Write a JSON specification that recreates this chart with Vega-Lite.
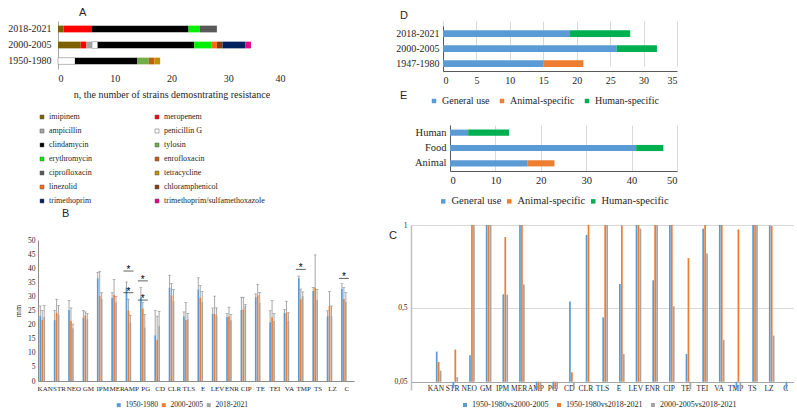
{
  "$schema": "https://vega.github.io/schema/vega-lite/v6.json",
  "background": "white",
  "padding": {"left": 7, "top": 7, "right": 0, "bottom": 0},
  "config": {
    "view": {"stroke": null},
    "axis": {"labelFont": "Liberation Serif", "titleFont": "Liberation Serif", "labelColor": "#262626", "titleColor": "#262626", "titleFontWeight": "normal", "ticks": false, "grid": false, "domainColor": "#a6a6a6", "labelAngle": 0, "labelOverlap": false},
    "legend": {"labelFont": "Liberation Serif", "labelColor": "#262626", "symbolType": "square", "padding": 0, "labelOffset": 3},
    "title": {"font": "Liberation Sans", "fontWeight": "normal", "fontSize": 11, "anchor": "start", "frame": "group", "color": "#262626"}
  },
  "datasets": {
    "a": [
      {"period": "2018-2021", "drug": "imipinem", "n": 1, "k": 1},
      {"period": "2018-2021", "drug": "meropenem", "n": 5, "k": 2},
      {"period": "2018-2021", "drug": "clindamycin", "n": 17, "k": 5},
      {"period": "2018-2021", "drug": "erythromycin", "n": 2, "k": 7},
      {"period": "2018-2021", "drug": "ciprofloxacin", "n": 3, "k": 9},
      {"period": "2000-2005", "drug": "imipinem", "n": 4, "k": 1},
      {"period": "2000-2005", "drug": "meropenem", "n": 1, "k": 2},
      {"period": "2000-2005", "drug": "ampicillin", "n": 1, "k": 3},
      {"period": "2000-2005", "drug": "penicillin G", "n": 1, "k": 4},
      {"period": "2000-2005", "drug": "clindamycin", "n": 17, "k": 5},
      {"period": "2000-2005", "drug": "erythromycin", "n": 3, "k": 7},
      {"period": "2000-2005", "drug": "linezolid", "n": 1, "k": 11},
      {"period": "2000-2005", "drug": "chloramphenicol", "n": 1, "k": 12},
      {"period": "2000-2005", "drug": "trimethoprim", "n": 4, "k": 13},
      {"period": "2000-2005", "drug": "trimethoprim/sulfamethoxazole", "n": 1, "k": 14},
      {"period": "1950-1980", "drug": "penicillin G", "n": 3, "k": 4},
      {"period": "1950-1980", "drug": "clindamycin", "n": 11, "k": 5},
      {"period": "1950-1980", "drug": "tylosin", "n": 2, "k": 6},
      {"period": "1950-1980", "drug": "enrofloxacin", "n": 1, "k": 8},
      {"period": "1950-1980", "drug": "tetracycline", "n": 1, "k": 10}
    ],
    "b": [
      {"drug": "KAN", "period": "1950-1980", "mm": 23.0, "up": 26.6}, {"drug": "KAN", "period": "2000-2005", "mm": 21.6, "up": 25.0}, {"drug": "KAN", "period": "2018-2021", "mm": 22.7, "up": 26.8},
      {"drug": "STR", "period": "1950-1980", "mm": 21.6, "up": 25.0}, {"drug": "STR", "period": "2000-2005", "mm": 24.2, "up": 29.0}, {"drug": "STR", "period": "2018-2021", "mm": 23.6, "up": 26.8},
      {"drug": "NEO", "period": "1950-1980", "mm": 25.2, "up": 28.6}, {"drug": "NEO", "period": "2000-2005", "mm": 21.4, "up": 25.9}, {"drug": "NEO", "period": "2018-2021", "mm": 18.7, "up": 20.2},
      {"drug": "GM", "period": "1950-1980", "mm": 22.5, "up": 25.0}, {"drug": "GM", "period": "2000-2005", "mm": 23.3, "up": 24.5}, {"drug": "GM", "period": "2018-2021", "mm": 21.9, "up": 24.0},
      {"drug": "IPM", "period": "1950-1980", "mm": 36.4, "up": 38.5}, {"drug": "IPM", "period": "2000-2005", "mm": 30.3, "up": 38.9}, {"drug": "IPM", "period": "2018-2021", "mm": 29.1, "up": 31.3},
      {"drug": "MER", "period": "1950-1980", "mm": 29.4, "up": 31.3}, {"drug": "MER", "period": "2000-2005", "mm": 30.5, "up": 36.0}, {"drug": "MER", "period": "2018-2021", "mm": 27.9, "up": 30.0},
      {"drug": "AMP", "period": "1950-1980", "mm": 33.2, "up": 35.1}, {"drug": "AMP", "period": "2000-2005", "mm": 25.0, "up": 29.0}, {"drug": "AMP", "period": "2018-2021", "mm": 20.8, "up": 23.3},
      {"drug": "PG", "period": "1950-1980", "mm": 29.6, "up": 33.1}, {"drug": "PG", "period": "2000-2005", "mm": 25.7, "up": 27.8}, {"drug": "PG", "period": "2018-2021", "mm": 19.0, "up": 23.6},
      {"drug": "CD", "period": "1950-1980", "mm": 16.2, "up": 25.0}, {"drug": "CD", "period": "2000-2005", "mm": 14.5, "up": 23.0}, {"drug": "CD", "period": "2018-2021", "mm": 19.7, "up": 24.7},
      {"drug": "CLR", "period": "1950-1980", "mm": 33.1, "up": 37.5}, {"drug": "CLR", "period": "2000-2005", "mm": 30.4, "up": 34.6}, {"drug": "CLR", "period": "2018-2021", "mm": 28.4, "up": 32.5},
      {"drug": "TLS", "period": "1950-1980", "mm": 23.0, "up": 24.5}, {"drug": "TLS", "period": "2000-2005", "mm": 21.6, "up": 27.9}, {"drug": "TLS", "period": "2018-2021", "mm": 21.9, "up": 24.0},
      {"drug": "E", "period": "1950-1980", "mm": 32.5, "up": 36.6}, {"drug": "E", "period": "2000-2005", "mm": 29.6, "up": 33.9}, {"drug": "E", "period": "2018-2021", "mm": 28.0, "up": 31.8},
      {"drug": "LEV", "period": "1950-1980", "mm": 23.9, "up": 25.9}, {"drug": "LEV", "period": "2000-2005", "mm": 23.8, "up": 30.1}, {"drug": "LEV", "period": "2018-2021", "mm": 23.3, "up": 25.9},
      {"drug": "ENR", "period": "1950-1980", "mm": 22.7, "up": 24.0}, {"drug": "ENR", "period": "2000-2005", "mm": 23.0, "up": 26.2}, {"drug": "ENR", "period": "2018-2021", "mm": 21.5, "up": 23.6},
      {"drug": "CIP", "period": "1950-1980", "mm": 25.2, "up": 29.7}, {"drug": "CIP", "period": "2000-2005", "mm": 25.4, "up": 29.7}, {"drug": "CIP", "period": "2018-2021", "mm": 26.6, "up": 27.1},
      {"drug": "TE", "period": "1950-1980", "mm": 29.7, "up": 30.9}, {"drug": "TE", "period": "2000-2005", "mm": 30.4, "up": 34.3}, {"drug": "TE", "period": "2018-2021", "mm": 27.8, "up": 31.4},
      {"drug": "TEI", "period": "1950-1980", "mm": 20.8, "up": 24.9}, {"drug": "TEI", "period": "2000-2005", "mm": 22.6, "up": 28.5}, {"drug": "TEI", "period": "2018-2021", "mm": 21.4, "up": 24.0},
      {"drug": "VA", "period": "1950-1980", "mm": 24.1, "up": 25.4}, {"drug": "VA", "period": "2000-2005", "mm": 24.2, "up": 28.3}, {"drug": "VA", "period": "2018-2021", "mm": 21.3, "up": 24.2},
      {"drug": "TMP", "period": "1950-1980", "mm": 36.5, "up": 37.2}, {"drug": "TMP", "period": "2000-2005", "mm": 29.0, "up": 32.6}, {"drug": "TMP", "period": "2018-2021", "mm": 30.1, "up": 31.6},
      {"drug": "TS", "period": "1950-1980", "mm": 31.9, "up": 33.2}, {"drug": "TS", "period": "2000-2005", "mm": 33.1, "up": 44.7}, {"drug": "TS", "period": "2018-2021", "mm": 28.8, "up": 32.5},
      {"drug": "LZ", "period": "1950-1980", "mm": 23.0, "up": 24.9}, {"drug": "LZ", "period": "2000-2005", "mm": 26.6, "up": 31.8}, {"drug": "LZ", "period": "2018-2021", "mm": 23.0, "up": 26.6},
      {"drug": "C", "period": "1950-1980", "mm": 32.6, "up": 34.5}, {"drug": "C", "period": "2000-2005", "mm": 29.1, "up": 33.2}, {"drug": "C", "period": "2018-2021", "mm": 28.0, "up": 31.4}
    ],
    "sig": [
      {"drug": "AMP", "y": 39.0}, {"drug": "AMP", "y": 31.3},
      {"drug": "PG", "y": 35.5}, {"drug": "PG", "y": 28.7},
      {"drug": "TMP", "y": 39.6}, {"drug": "C", "y": 36.4}
    ],
    "c": [
      {"drug": "KAN", "cmp": "1950-1980vs2000-2005", "p": 0.233}, {"drug": "KAN", "cmp": "1950-1980vs2018-2021", "p": 0.17}, {"drug": "KAN", "cmp": "2000-2005vs2018-2021", "p": 0.117},
      {"drug": "STR", "cmp": "1950-1980vs2000-2005", "p": 0.01}, {"drug": "STR", "cmp": "1950-1980vs2018-2021", "p": 0.245}, {"drug": "STR", "cmp": "2000-2005vs2018-2021", "p": 0.078},
      {"drug": "NEO", "cmp": "1950-1980vs2000-2005", "p": 0.21}, {"drug": "NEO", "cmp": "1950-1980vs2018-2021", "p": 1}, {"drug": "NEO", "cmp": "2000-2005vs2018-2021", "p": 1},
      {"drug": "GM", "cmp": "1950-1980vs2000-2005", "p": 1}, {"drug": "GM", "cmp": "1950-1980vs2018-2021", "p": 1}, {"drug": "GM", "cmp": "2000-2005vs2018-2021", "p": 1},
      {"drug": "IPM", "cmp": "1950-1980vs2000-2005", "p": 0.58}, {"drug": "IPM", "cmp": "1950-1980vs2018-2021", "p": 0.927}, {"drug": "IPM", "cmp": "2000-2005vs2018-2021", "p": 0.578},
      {"drug": "MER", "cmp": "1950-1980vs2000-2005", "p": 1}, {"drug": "MER", "cmp": "1950-1980vs2018-2021", "p": 1}, {"drug": "MER", "cmp": "2000-2005vs2018-2021", "p": 0.639},
      {"drug": "AMP", "cmp": "1950-1980vs2000-2005", "p": 0.005}, {"drug": "AMP", "cmp": "1950-1980vs2018-2021", "p": 0.005}, {"drug": "AMP", "cmp": "2000-2005vs2018-2021", "p": 0.005},
      {"drug": "PG", "cmp": "1950-1980vs2000-2005", "p": 0.005}, {"drug": "PG", "cmp": "1950-1980vs2018-2021", "p": 0.005}, {"drug": "PG", "cmp": "2000-2005vs2018-2021", "p": 0.005},
      {"drug": "CD", "cmp": "1950-1980vs2000-2005", "p": 0.537}, {"drug": "CD", "cmp": "1950-1980vs2018-2021", "p": 0.107}, {"drug": "CD", "cmp": "2000-2005vs2018-2021", "p": 0.003},
      {"drug": "CLR", "cmp": "1950-1980vs2000-2005", "p": 0.94}, {"drug": "CLR", "cmp": "1950-1980vs2018-2021", "p": 1}, {"drug": "CLR", "cmp": "2000-2005vs2018-2021", "p": 0.045},
      {"drug": "TLS", "cmp": "1950-1980vs2000-2005", "p": 0.44}, {"drug": "TLS", "cmp": "1950-1980vs2018-2021", "p": 1}, {"drug": "TLS", "cmp": "2000-2005vs2018-2021", "p": 1},
      {"drug": "E", "cmp": "1950-1980vs2000-2005", "p": 0.643}, {"drug": "E", "cmp": "1950-1980vs2018-2021", "p": 0.998}, {"drug": "E", "cmp": "2000-2005vs2018-2021", "p": 0.218},
      {"drug": "LEV", "cmp": "1950-1980vs2000-2005", "p": 1}, {"drug": "LEV", "cmp": "1950-1980vs2018-2021", "p": 1}, {"drug": "LEV", "cmp": "2000-2005vs2018-2021", "p": 0.978},
      {"drug": "ENR", "cmp": "1950-1980vs2000-2005", "p": 0.665}, {"drug": "ENR", "cmp": "1950-1980vs2018-2021", "p": 1}, {"drug": "ENR", "cmp": "2000-2005vs2018-2021", "p": 1},
      {"drug": "CIP", "cmp": "1950-1980vs2000-2005", "p": 1}, {"drug": "CIP", "cmp": "1950-1980vs2018-2021", "p": 1}, {"drug": "CIP", "cmp": "2000-2005vs2018-2021", "p": 0.507},
      {"drug": "TE", "cmp": "1950-1980vs2000-2005", "p": 0.218}, {"drug": "TE", "cmp": "1950-1980vs2018-2021", "p": 0.8}, {"drug": "TE", "cmp": "2000-2005vs2018-2021", "p": 0.003},
      {"drug": "TEI", "cmp": "1950-1980vs2000-2005", "p": 0.978}, {"drug": "TEI", "cmp": "1950-1980vs2018-2021", "p": 1}, {"drug": "TEI", "cmp": "2000-2005vs2018-2021", "p": 0.827},
      {"drug": "VA", "cmp": "1950-1980vs2000-2005", "p": 1}, {"drug": "VA", "cmp": "1950-1980vs2018-2021", "p": 1}, {"drug": "VA", "cmp": "2000-2005vs2018-2021", "p": 0.304},
      {"drug": "TMP", "cmp": "1950-1980vs2000-2005", "p": 0.003}, {"drug": "TMP", "cmp": "1950-1980vs2018-2021", "p": 0.974}, {"drug": "TMP", "cmp": "2000-2005vs2018-2021", "p": 0.003},
      {"drug": "TS", "cmp": "1950-1980vs2000-2005", "p": 1}, {"drug": "TS", "cmp": "1950-1980vs2018-2021", "p": 1}, {"drug": "TS", "cmp": "2000-2005vs2018-2021", "p": 1},
      {"drug": "LZ", "cmp": "1950-1980vs2000-2005", "p": 0.998}, {"drug": "LZ", "cmp": "1950-1980vs2018-2021", "p": 0.994}, {"drug": "LZ", "cmp": "2000-2005vs2018-2021", "p": 0.33},
      {"drug": "C", "cmp": "1950-1980vs2000-2005", "p": 0.003}
    ],
    "d": [
      {"period": "2018-2021", "type": "General use", "n": 19, "k": 1},
      {"period": "2018-2021", "type": "Human-specific", "n": 9, "k": 3},
      {"period": "2000-2005", "type": "General use", "n": 26, "k": 1},
      {"period": "2000-2005", "type": "Human-specific", "n": 6, "k": 3},
      {"period": "1947-1980", "type": "General use", "n": 15, "k": 1},
      {"period": "1947-1980", "type": "Animal-specific", "n": 6, "k": 2}
    ],
    "e": [
      {"source": "Human", "type": "General use", "n": 4, "k": 1},
      {"source": "Human", "type": "Human-specific", "n": 9, "k": 3},
      {"source": "Food", "type": "General use", "n": 41, "k": 1},
      {"source": "Food", "type": "Human-specific", "n": 6, "k": 3},
      {"source": "Animal", "type": "General use", "n": 17, "k": 1},
      {"source": "Animal", "type": "Animal-specific", "n": 6, "k": 2}
    ]
  },
  "resolve": {"scale": {"color": "independent"}, "legend": {"color": "independent"}},
  "spacing": 35,
  "hconcat": [
    {
      "bounds": "flush",
      "spacing": 171,
      "resolve": {"scale": {"color": "independent"}, "legend": {"color": "independent"}},
      "vconcat": [
        {
          "width": 247, "height": 48,
          "title": {"text": "A", "dx": 41, "offset": 3},
          "data": {"name": "a"},
          "mark": {"type": "bar", "stroke": "#8c8c8c"},
          "encoding": {
            "y": {"field": "period", "type": "nominal", "sort": ["2018-2021", "2000-2005", "1950-1980"], "scale": {"paddingInner": 0.58, "paddingOuter": 0.29}, "axis": {"title": null, "offset": -20, "labelFontSize": 10, "labelPadding": 7, "domainColor": "#a6a6a6"}},
            "x": {"field": "n", "type": "quantitative", "stack": "zero", "scale": {"domain": [0, 40], "range": [20, 247], "nice": false}, "axis": {"values": [0, 10, 20, 30, 40], "title": "n, the number of strains demosntrating resistance", "titleFontSize": 10, "labelFontSize": 10, "domain": false, "labelPadding": 4, "titlePadding": 6}},
            "color": {"field": "drug", "type": "nominal",
              "scale": {"domain": ["imipinem", "meropenem", "ampicillin", "penicillin G", "clindamycin", "tylosin", "erythromycin", "enrofloxacin", "ciprofloxacin", "tetracycline", "linezolid", "chloramphenicol", "trimethoprim", "trimethoprim/sulfamethoxazole"],
                        "range": ["#7f6000", "#ff0000", "#a6a6a6", "#ffffff", "#000000", "#70ad47", "#00f000", "#c55a11", "#595959", "#bf9000", "#ff6a13", "#843c0c", "#002060", "#e6008c"]},
              "legend": {"title": null, "orient": "none", "legendX": 0, "legendY": 92, "columns": 2, "direction": "horizontal", "columnPadding": 60, "rowPadding": 6, "symbolSize": 16, "labelFontSize": 8, "labelColor": "#262626", "labelLimit": 200, "symbolStrokeColor": "#595959", "symbolStrokeWidth": 0.5}},
            "order": {"field": "k", "type": "quantitative"},
            "strokeWidth": {"condition": {"test": "datum.drug === 'penicillin G'", "value": 0.6}, "value": 0}
          }
        },
        {
          "width": 316, "height": 141,
          "title": {"text": "B", "dx": 24, "offset": 17},
          "data": {"name": "b"},
          "encoding": {
            "x": {"field": "drug", "type": "nominal", "scale": {"domain": ["KAN", "STR", "NEO", "GM", "IPM", "MER", "AMP", "PG", "CD", "CLR", "TLS", "E", "LEV", "ENR", "CIP", "TE", "TEI", "VA", "TMP", "TS", "LZ", "C"], "paddingInner": 0.2, "paddingOuter": 0.1}, "axis": {"title": null, "labelFontSize": 7, "labelPadding": 3, "domainColor": "#8c8c8c"}},
            "xOffset": {"field": "period", "type": "nominal", "scale": {"domain": ["1950-1980", "2000-2005", "2018-2021"], "paddingInner": 0.12}}
          },
          "layer": [
            {
              "mark": {"type": "bar"},
              "encoding": {
                "y": {"field": "mm", "type": "quantitative", "scale": {"domain": [0, 50], "nice": false}, "axis": {"values": [0, 5, 10, 15, 20, 25, 30, 35, 40, 45, 50], "title": "mm", "titleFontSize": 8, "labelFontSize": 7.5, "labelPadding": 3, "titlePadding": 5, "domainColor": "#8c8c8c", "labelOverlap": false}},
                "color": {"field": "period", "type": "nominal", "scale": {"domain": ["1950-1980", "2000-2005", "2018-2021"], "range": ["#5b9bd5", "#ed7d31", "#a5a5a5"]},
                  "legend": {"title": null, "orient": "none", "direction": "horizontal", "legendX": 77, "legendY": 161, "symbolSize": 16, "labelFontSize": 7.5, "labelColor": "#262626", "columnPadding": 2}}
              }
            },
            {
              "mark": {"type": "rule", "color": "#7f7f7f", "strokeWidth": 0.7},
              "encoding": {
                "y": {"field": "mm", "type": "quantitative", "scale": {"domain": [0, 50], "nice": false}, "axis": {"values": [0, 5, 10, 15, 20, 25, 30, 35, 40, 45, 50], "title": "mm", "titleFontSize": 8, "labelFontSize": 7.5, "labelPadding": 3, "titlePadding": 5, "domainColor": "#8c8c8c", "labelOverlap": false}},
                "y2": {"field": "up"}
              }
            },
            {
              "mark": {"type": "tick", "color": "#7f7f7f", "thickness": 0.7, "size": 3},
              "encoding": {
                "y": {"field": "up", "type": "quantitative", "scale": {"domain": [0, 50], "nice": false}, "axis": {"values": [0, 5, 10, 15, 20, 25, 30, 35, 40, 45, 50], "title": "mm", "titleFontSize": 8, "labelFontSize": 7.5, "labelPadding": 3, "titlePadding": 5, "domainColor": "#8c8c8c", "labelOverlap": false}}
              }
            },
            {
              "data": {"name": "sig"},
              "mark": {"type": "tick", "color": "#000000", "thickness": 0.9, "size": 10},
              "encoding": {"xOffset": {"datum": "2000-2005"}, "y": {"field": "y", "type": "quantitative", "scale": {"domain": [0, 50], "nice": false}, "axis": {"values": [0, 5, 10, 15, 20, 25, 30, 35, 40, 45, 50], "title": "mm", "titleFontSize": 8, "labelFontSize": 7.5, "labelPadding": 3, "titlePadding": 5, "domainColor": "#8c8c8c", "labelOverlap": false}}}
            },
            {
              "data": {"name": "sig"},
              "mark": {"type": "text", "text": "*", "fontSize": 10, "font": "Liberation Sans", "baseline": "bottom", "dy": 4},
              "encoding": {"xOffset": {"datum": "2000-2005"}, "y": {"field": "y", "type": "quantitative", "scale": {"domain": [0, 50], "nice": false}, "axis": {"values": [0, 5, 10, 15, 20, 25, 30, 35, 40, 45, 50], "title": "mm", "titleFontSize": 8, "labelFontSize": 7.5, "labelPadding": 3, "titlePadding": 5, "domainColor": "#8c8c8c", "labelOverlap": false}}}
            }
          ]
        }
      ]
    },
    {
      "bounds": "flush",
      "spacing": 54,
      "resolve": {"scale": {"color": "independent"}, "legend": {"color": "independent"}},
      "vconcat": [
        {
          "width": 266, "height": 50,
          "title": {"text": "D", "dx": -11, "offset": 0},
          "data": {"name": "d"},
          "mark": {"type": "bar"},
          "encoding": {
            "y": {"field": "period", "type": "nominal", "sort": ["2018-2021", "2000-2005", "1947-1980"], "scale": {"range": [5, 50], "paddingInner": 0.55, "paddingOuter": 0.275}, "axis": {"title": null, "offset": -32, "labelFontSize": 10, "labelPadding": 4, "domainColor": "#595959"}},
            "x": {"field": "n", "type": "quantitative", "stack": "zero", "scale": {"domain": [0, 35], "range": [32, 266], "nice": false}, "axis": {"values": [0, 5, 10, 15, 20, 25, 30, 35], "title": null, "grid": true, "gridColor": "#d9d9d9", "domainColor": "#595959", "labelFontSize": 10, "labelPadding": 4}},
            "color": {"field": "type", "type": "nominal", "scale": {"domain": ["General use", "Animal-specific", "Human-specific"], "range": ["#5b9bd5", "#ed7d31", "#00b050"]},
              "legend": {"title": null, "orient": "none", "direction": "horizontal", "legendX": 18, "legendY": 75, "symbolSize": 20, "labelFontSize": 10, "labelColor": "#262626", "columnPadding": 7}},
            "order": {"field": "k", "type": "quantitative"}
          }
        },
        {
          "width": 266, "height": 46,
          "title": {"text": "E", "dx": -11, "offset": 24},
          "data": {"name": "e"},
          "mark": {"type": "bar"},
          "encoding": {
            "y": {"field": "source", "type": "nominal", "sort": ["Human", "Food", "Animal"], "scale": {"paddingInner": 0.6, "paddingOuter": 0.3}, "axis": {"title": null, "offset": -39, "labelFontSize": 10.5, "labelPadding": 4, "domainColor": "#595959"}},
            "x": {"field": "n", "type": "quantitative", "stack": "zero", "scale": {"domain": [0, 50], "range": [39, 266], "nice": false}, "axis": {"values": [0, 10, 20, 30, 40, 50], "title": null, "grid": true, "gridColor": "#d9d9d9", "domainColor": "#595959", "labelFontSize": 10.5, "labelPadding": 4}},
            "color": {"field": "type", "type": "nominal", "scale": {"domain": ["General use", "Animal-specific", "Human-specific"], "range": ["#5b9bd5", "#ed7d31", "#00b050"]},
              "legend": {"title": null, "orient": "none", "direction": "horizontal", "legendX": 27, "legendY": 71, "symbolSize": 20, "labelFontSize": 10.5, "labelColor": "#262626", "columnPadding": 2}},
            "order": {"field": "k", "type": "quantitative"}
          }
        },
        {
          "width": 383, "height": 165,
          "title": {"text": "C", "dx": -22, "offset": -20},
          "data": {"name": "c"},
          "mark": {"type": "bar"},
          "encoding": {
            "x": {"field": "drug", "type": "nominal", "scale": {"domain": [" ", "KAN", "STR", "NEO", "GM", "IPM", "MER", "AMP", "PG", "CD", "CLR", "TLS", "E", "LEV", "ENR", "CIP", "TE", "TEI", "VA", "TMP", "TS", "LZ", "C"], "paddingInner": 0.28, "paddingOuter": 0.14}, "axis": {"title": null, "offset": -8, "labelFontSize": 7.5, "labelPadding": 2, "domainColor": "#a6a6a6"}},
            "xOffset": {"field": "cmp", "type": "nominal", "scale": {"domain": ["1950-1980vs2000-2005", "1950-1980vs2018-2021", "2000-2005vs2018-2021"], "paddingInner": 0.2}},
            "y": {"field": "p", "type": "quantitative", "scale": {"domain": [0, 1], "nice": false}, "axis": {"values": [0.05, 0.5, 1], "labelExpr": "datum.value == 1 ? '1' : datum.value == 0.5 ? '0,5' : '0,05'", "grid": true, "gridColor": "#d9d9d9", "domainColor": "#bfbfbf", "domainWidth": 1.5, "title": null, "labelFontSize": 7.5, "labelPadding": 4}},
            "y2": {"datum": 0.05},
            "color": {"field": "cmp", "type": "nominal", "scale": {"domain": ["1950-1980vs2000-2005", "1950-1980vs2018-2021", "2000-2005vs2018-2021"], "range": ["#5b9bd5", "#ed7d31", "#a5a5a5"]},
              "legend": {"title": null, "orient": "none", "direction": "horizontal", "legendX": 50, "legendY": 176, "symbolSize": 16, "labelFontSize": 8, "labelColor": "#262626", "columnPadding": 6}}
          }
        }
      ]
    }
  ]
}
